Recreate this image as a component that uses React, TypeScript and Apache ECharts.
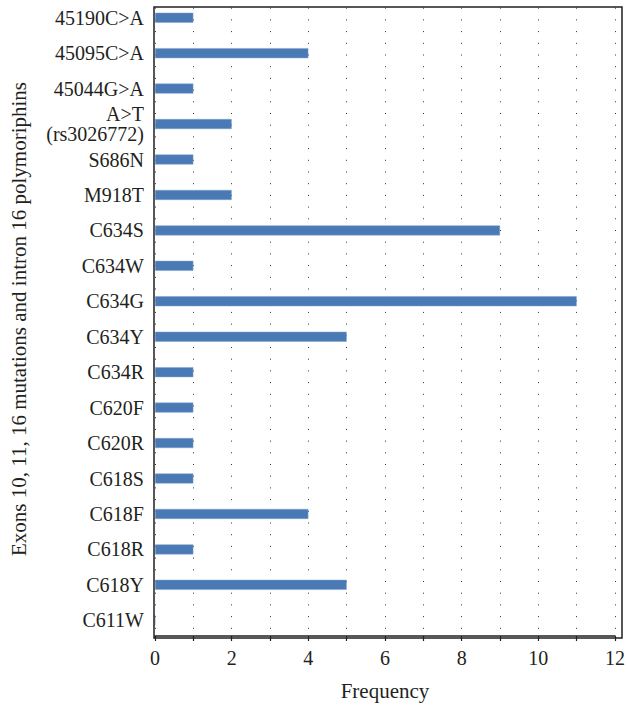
import React, { useEffect, useRef } from "react";
import * as echarts from "echarts";

const categories = [
  "45190C>A",
  "45095C>A",
  "45044G>A",
  "A>T\n(rs3026772)",
  "S686N",
  "M918T",
  "C634S",
  "C634W",
  "C634G",
  "C634Y",
  "C634R",
  "C620F",
  "C620R",
  "C618S",
  "C618F",
  "C618R",
  "C618Y",
  "C611W",
];
const frequencies = [1, 4, 1, 2, 1, 2, 9, 1, 11, 5, 1, 1, 1, 1, 4, 1, 5, 0];
const xTickLabels = ["0", "2", "4", "6", "8", "10", "12"];
const xName = "Frequency";
const yName = "Exons 10, 11, 16 mutations and intron 16 polymoriphins";

const FONT = "'Liberation Serif', 'DejaVu Serif', serif";
const TEXT = "#231f20";

export default function App() {
  const ref = useRef<HTMLDivElement>(null);
  useEffect(() => {
    document.body.style.margin = "0";
    const chart = echarts.init(ref.current!, undefined, { renderer: "svg" });
    chart.setOption({
      animation: false,
      grid: { left: 154, right: 6, top: -1, bottom: 66, containLabel: false },
      xAxis: {
        type: "value",
        min: 0,
        max: 12,
        interval: 1,
        offset: -2,
        name: xName,
        nameLocation: "middle",
        nameGap: 44,
        nameTextStyle: { fontFamily: FONT, fontSize: 21, color: TEXT },
        axisLine: { show: true, lineStyle: { color: TEXT, width: 1.5 } },
        axisTick: { show: true, length: 5, lineStyle: { color: TEXT, width: 1.2 } },
        axisLabel: {
          fontFamily: FONT,
          fontSize: 20,
          color: TEXT,
          margin: 12,
          formatter: (v: number) => {
            const s = String(v);
            return xTickLabels.includes(s) ? s : "";
          },
        },
        splitLine: {
          show: true,
          lineStyle: { color: "#333", width: 1, type: [1, 10.7], dashOffset: 4 },
        },
      },
      yAxis: {
        type: "category",
        data: categories,
        inverse: true,
        name: yName,
        nameLocation: "middle",
        nameGap: 126,
        nameTextStyle: { fontFamily: FONT, fontSize: 21, color: TEXT },
        axisLine: { show: false },
        axisTick: { show: false },
        axisLabel: {
          fontFamily: FONT,
          fontSize: 20,
          color: TEXT,
          margin: 11,
          lineHeight: 20,
          align: "right",
        },
        splitLine: { show: false },
      },
      graphic: [
        {
          type: "rect",
          shape: { x: 154, y: 7, width: 468, height: 631 },
          style: { fill: "none", stroke: TEXT, lineWidth: 1.5 },
          z: 100,
          silent: true,
        },
      ],
      series: [
        {
          type: "bar",
          data: frequencies,
          barWidth: 10,
          itemStyle: { color: "#4a7ab5", borderColor: "#7fa3cf", borderWidth: 0.5 },
        },
      ],
    });
    return () => chart.dispose();
  }, []);
  return <div ref={ref} style={{ width: 628, height: 706 }} />;
}
